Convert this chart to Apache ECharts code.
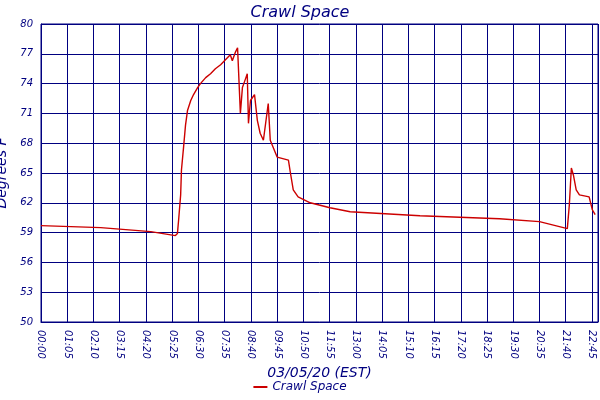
<!DOCTYPE html>
<html><head><meta charset="utf-8">
<script src="https://cdn.jsdelivr.net/npm/echarts@6/dist/echarts.min.js"></script>
<style>html,body{margin:0;padding:0;background:#fff}#c{width:600px;height:400px}</style>
</head><body><div id="c"></div>
<script>
var minutes = [0,148,272,333,338,341,346,348,353,358,363,371,378,388,395,408,420,432,445,457,469,474,482,487,494,499,506,511,514,519,529,536,543,551,563,568,585,613,618,625,637,667,716,766,939,1136,1235,1304,1307,1309,1314,1319,1326,1334,1358,1366,1373];
var temps = [59.7,59.5,59.1,58.7,58.9,60.3,62.8,65.3,67.5,69.8,71.3,72.3,72.9,73.6,74.0,74.6,75.0,75.5,75.9,76.4,76.9,76.3,77.2,77.6,71.0,73.6,74.4,75.0,70.0,72.3,72.9,70.3,69.0,68.3,72.0,68.3,66.6,66.3,65.0,63.3,62.6,62.0,61.5,61.1,60.7,60.4,60.1,59.4,59.3,61.8,65.5,64.8,63.3,62.8,62.6,61.3,60.8];
var yTicks = [50,53,56,59,62,65,68,71,74,77,80];
var navy = '#000080';
var font = 'DejaVu Sans';
function hhmm(v){var h=Math.floor(v/60),m=v%60;return (h<10?'0':'')+h+':'+(m<10?'0':'')+m;}
var chart = echarts.init(document.getElementById('c'));
chart.setOption({
  animation:false,
  backgroundColor:'#fff',
  title:{text:'Crawl Space',left:'center',top:0,textStyle:{color:navy,fontFamily:font,fontStyle:'italic',fontSize:16,fontWeight:'normal'}},
  legend:{bottom:2,left:'center',itemWidth:14,itemHeight:2,icon:'rect',textStyle:{color:navy,fontFamily:font,fontStyle:'italic',fontSize:12}},
  grid:{left:41,right:2,top:24,bottom:78,containLabel:false,outerBoundsMode:'none',show:true,borderColor:navy,borderWidth:1},
  xAxis:{type:'value',min:0,max:1380,interval:65,name:'03/05/20 (EST)',nameLocation:'middle',nameGap:44,
    nameTextStyle:{color:navy,fontFamily:font,fontStyle:'italic',fontSize:14},
    axisLine:{lineStyle:{color:navy}},axisTick:{show:false},
    axisLabel:{rotate:-90,color:navy,fontFamily:font,fontStyle:'italic',fontSize:10,formatter:hhmm,showMaxLabel:false},
    splitLine:{lineStyle:{color:navy,width:1}}},
  yAxis:{type:'value',min:yTicks[0],max:yTicks[yTicks.length-1],interval:3,name:'Degrees F',nameLocation:'middle',nameGap:28,
    nameTextStyle:{color:navy,fontFamily:font,fontStyle:'italic',fontSize:14},
    axisLine:{show:true,lineStyle:{color:navy}},axisTick:{show:false},
    axisLabel:{color:navy,fontFamily:font,fontStyle:'italic',fontSize:10},
    splitLine:{lineStyle:{color:navy,width:1}}},
  series:[{name:'Crawl Space',type:'line',symbol:'none',data:minutes.map(function(m,i){return [m,temps[i]];}),
    lineStyle:{color:'#cc0000',width:1.4},itemStyle:{color:'#cc0000'}}]
});
</script></body></html>
